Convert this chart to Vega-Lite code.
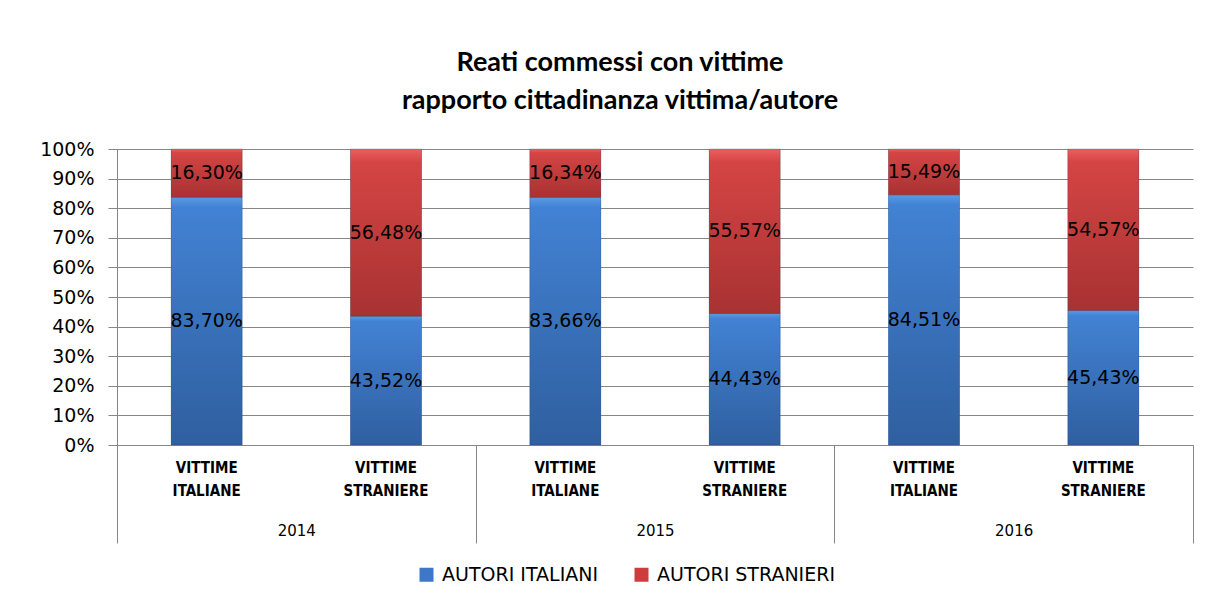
{
  "$schema": "https://vega.github.io/schema/vega-lite/v6.json",
  "width": 1076,
  "height": 296,
  "autosize": {"type": "none"},
  "padding": {"left": 117, "top": 149, "right": 24, "bottom": 165},
  "background": "white",
  "config": {
    "locale": {"number": {"decimal": ",", "thousands": ".", "grouping": [3], "currency": ["", " €"]}},
    "view": {"stroke": null},
    "axisY": {
      "values": [0, 0.1, 0.2, 0.3, 0.4, 0.5, 0.6, 0.7, 0.8, 0.9, 1],
      "format": ".0%",
      "labelFont": "DejaVu Sans",
      "labelFontSize": 19,
      "labelColor": "#000000",
      "labelPadding": 14,
      "labelOverlap": false,
      "tickSize": 9,
      "tickColor": "#868686",
      "domainColor": "#868686",
      "gridColor": "#868686",
      "gridWidth": 1
    }
  },
  "title": {
    "text": ["Reati commessi con vittime", "rapporto cittadinanza vittima/autore"],
    "font": "Lato",
    "fontWeight": "bold",
    "fontSize": 27,
    "lineHeight": 38,
    "color": "#000000",
    "anchor": "middle",
    "dx": -35,
    "offset": 25
  },
  "data": {
    "values": [
      {"gruppo": "2014|VITTIME|ITALIANE", "anno": "2014", "autori": "AUTORI ITALIANI", "quota": 0.8370},
      {"gruppo": "2014|VITTIME|ITALIANE", "anno": "2014", "autori": "AUTORI STRANIERI", "quota": 0.1630},
      {"gruppo": "2014|VITTIME|STRANIERE", "anno": "2014", "autori": "AUTORI ITALIANI", "quota": 0.4352},
      {"gruppo": "2014|VITTIME|STRANIERE", "anno": "2014", "autori": "AUTORI STRANIERI", "quota": 0.5648},
      {"gruppo": "2015|VITTIME|ITALIANE", "anno": "2015", "autori": "AUTORI ITALIANI", "quota": 0.8366},
      {"gruppo": "2015|VITTIME|ITALIANE", "anno": "2015", "autori": "AUTORI STRANIERI", "quota": 0.1634},
      {"gruppo": "2015|VITTIME|STRANIERE", "anno": "2015", "autori": "AUTORI ITALIANI", "quota": 0.4443},
      {"gruppo": "2015|VITTIME|STRANIERE", "anno": "2015", "autori": "AUTORI STRANIERI", "quota": 0.5557},
      {"gruppo": "2016|VITTIME|ITALIANE", "anno": "2016", "autori": "AUTORI ITALIANI", "quota": 0.8451},
      {"gruppo": "2016|VITTIME|ITALIANE", "anno": "2016", "autori": "AUTORI STRANIERI", "quota": 0.1549},
      {"gruppo": "2016|VITTIME|STRANIERE", "anno": "2016", "autori": "AUTORI ITALIANI", "quota": 0.4543},
      {"gruppo": "2016|VITTIME|STRANIERE", "anno": "2016", "autori": "AUTORI STRANIERI", "quota": 0.5457}
    ]
  },
  "transform": [
    {"stack": "quota", "groupby": ["gruppo"], "sort": [{"field": "autori", "order": "ascending"}], "as": ["q0", "q1"]},
    {"calculate": "(datum.q0 + datum.q1) / 2", "as": "qmid"}
  ],
  "layer": [
    {
      "encoding": {
        "x": {
          "field": "gruppo",
          "type": "nominal",
          "sort": null,
          "scale": {"paddingInner": 0.604, "paddingOuter": 0.302},
          "title": null,
          "axis": {
            "labelExpr": "[split(datum.value, '|')[1], split(datum.value, '|')[2]]",
            "labelAngle": 0,
            "labelFont": "DejaVu Sans Condensed",
            "labelFontWeight": "bold",
            "labelFontSize": 15,
            "labelColor": "#000000",
            "labelLineHeight": 23,
            "labelPadding": 15,
            "ticks": false,
            "domainColor": "#868686",
            "grid": false
          }
        }
      },
      "layer": [
        {
          "mark": {"type": "bar"},
          "encoding": {
            "y": {
              "field": "q0",
              "type": "quantitative",
              "scale": {"domain": [0, 1]},
              "title": null,
              "axis": {"values": [0, 0.1, 0.2, 0.3, 0.4, 0.5, 0.6, 0.7, 0.8, 0.9, 1], "tickCount": 11}
            },
            "y2": {"field": "q1"},
            "color": {
              "field": "autori",
              "type": "nominal",
              "scale": {"domain": ["AUTORI ITALIANI", "AUTORI STRANIERI"], "range": ["#3d77c8", "#cc3e3e"]},
              "legend": {
                "title": null,
                "orient": "none",
                "direction": "horizontal",
                "legendX": 300,
                "legendY": 416,
                "symbolType": "square",
                "symbolSize": 196,
                "symbolStrokeWidth": 0,
                "labelFont": "DejaVu Sans",
                "labelFontSize": 19,
                "labelColor": "#000000",
                "labelOffset": 6,
                "labelLimit": 400,
                "columnPadding": 33
              }
            }
          }
        },
        {
          "mark": {"type": "bar", "stroke": "#1f3f6a", "strokeOpacity": 0.25, "strokeWidth": 1},
          "encoding": {
            "y": {"field": "q0", "type": "quantitative", "title": null, "axis": {"values": [0, 0.1, 0.2, 0.3, 0.4, 0.5, 0.6, 0.7, 0.8, 0.9, 1], "tickCount": 11}},
            "y2": {"field": "q1"},
            "fill": {
              "condition": {
                "test": "datum.autori === 'AUTORI ITALIANI'",
                "value": {"gradient": "linear", "x1": 0, "y1": 0, "x2": 0, "y2": 1, "stops": [{"offset": 0, "color": "#5a9ae6"}, {"offset": 0.04, "color": "#4282d4"}, {"offset": 1, "color": "#2f5f9f"}]}
              },
              "value": {"gradient": "linear", "x1": 0, "y1": 0, "x2": 0, "y2": 1, "stops": [{"offset": 0, "color": "#ec6060"}, {"offset": 0.08, "color": "#d54444"}, {"offset": 1, "color": "#a83232"}]}
            }
          }
        },
        {
          "mark": {"type": "text", "font": "DejaVu Sans", "fontSize": 19, "color": "#000000", "baseline": "middle"},
          "encoding": {
            "y": {"field": "qmid", "type": "quantitative", "title": null, "axis": {"values": [0, 0.1, 0.2, 0.3, 0.4, 0.5, 0.6, 0.7, 0.8, 0.9, 1], "tickCount": 11}},
            "text": {"field": "quota", "type": "quantitative", "format": ".2%"}
          }
        }
      ]
    },
    {
      "mark": {"type": "point", "opacity": 0},
      "encoding": {
        "x": {
          "field": "anno",
          "type": "nominal",
          "scale": {"paddingInner": 0, "paddingOuter": 0},
          "title": null,
          "axis": {
            "orient": "bottom",
            "tickBand": "extent",
            "tickSize": 98,
            "tickColor": "#868686",
            "domain": false,
            "grid": false,
            "labelAngle": 0,
            "labelFont": "DejaVu Sans",
            "labelFontSize": 15,
            "labelColor": "#000000",
            "labelPadding": -20
          }
        }
      }
    }
  ],
  "resolve": {"scale": {"x": "independent"}, "axis": {"x": "independent"}}
}
